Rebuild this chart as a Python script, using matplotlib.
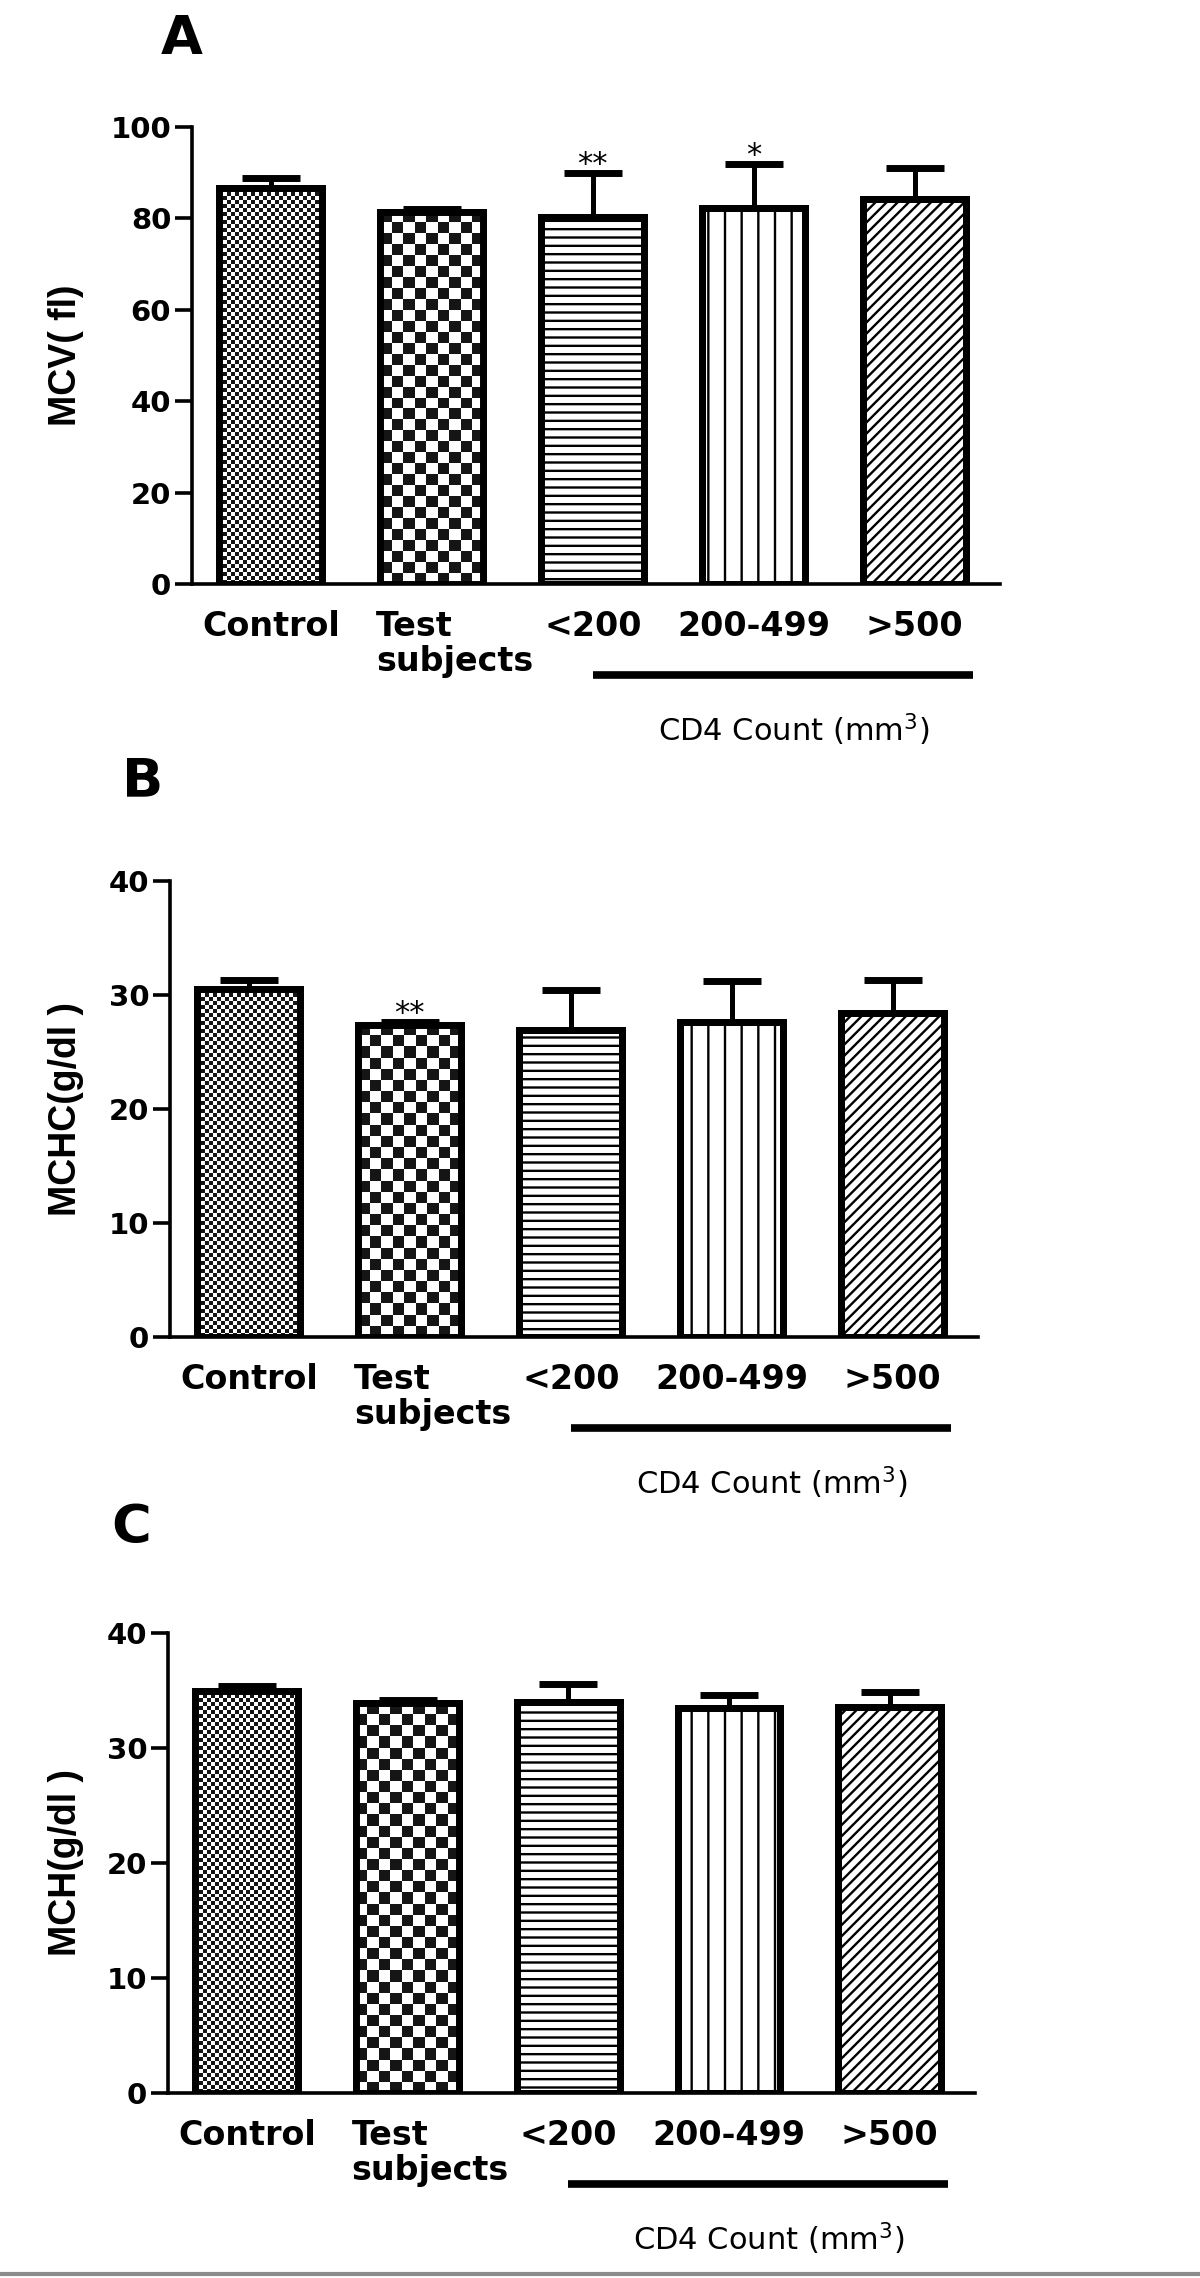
import numpy as np
import matplotlib
matplotlib.use("Agg")
import matplotlib.pyplot as plt
from matplotlib.colors import ListedColormap
from matplotlib.lines import Line2D
from matplotlib.transforms import blended_transform_factory, ScaledTranslation

# ------------------------------------------------------------------
# Data
# ------------------------------------------------------------------
groups = ["Control", "Test\nsubjects", "<200", "200-499", ">500"]

mcv_mean = [86.6, 81.5, 80.4, 82.3, 84.2]
mcv_sd = [2.2, 0.6, 9.6, 9.6, 6.8]
mcv_stars = ["", "", "**", "*", ""]

mchc_mean = [30.5, 27.4, 26.9, 27.6, 28.4]
mchc_sd = [0.8, 0.25, 3.5, 3.6, 2.9]
mchc_stars = ["", "**", "", "", ""]

mch_mean = [35.0, 33.9, 34.0, 33.5, 33.6]
mch_sd = [0.4, 0.3, 1.6, 1.1, 1.3]
mch_stars = ["", "", "", "", ""]

cd4_first, cd4_last = 2, 4   # groups spanned by the CD4 bracket

# fill per group: ("checker", cell px) or a matplotlib hatch string
fills = [("checker", 4), ("checker", 11), "--", "|", "///"]

# ------------------------------------------------------------------
# Figure set-up (pixel based layout, 1200 x 2278 at 100 dpi)
# ------------------------------------------------------------------
W, H, DPI = 1200, 2278, 100
plt.rcParams["font.family"] = ["DejaVu Sans"]
plt.rcParams["font.weight"] = "bold"
plt.rcParams["hatch.linewidth"] = 1.7
plt.rcParams["mathtext.default"] = "regular"

fig = plt.figure(figsize=(W / DPI, H / DPI), dpi=DPI)
fig.patch.set_facecolor("white")

BAR_W = 0.64
XLIM = (-0.49, 4.53)
LABEL_FONT = ["Liberation Sans", "DejaVu Sans"]

panels = [
    # letter, letter centre px, ylabel, means, sds, stars, ymax, ystep, box (l, t, r, b) px
    ("A", (182, 39), "MCV( fl)", mcv_mean, mcv_sd, mcv_stars, 100, 20, (192, 127, 1000, 584)),
    ("B", (143, 781), "MCHC(g/dl )", mchc_mean, mchc_sd, mchc_stars, 40, 10, (170, 881, 978, 1337)),
    ("C", (131, 1528), "MCH(g/dl )", mch_mean, mch_sd, mch_stars, 40, 10, (168, 1633, 975, 2093)),
]


def fill_checker(ax, bar, cell):
    """Paint a checkerboard inside a bar, clipped to the bar outline."""
    x0, y0 = bar.get_x(), bar.get_y()
    x1, y1 = x0 + bar.get_width(), y0 + bar.get_height()
    p0 = ax.transData.transform((x0, y0))
    p1 = ax.transData.transform((x1, y1))
    nx = max(1, int(round((p1[0] - p0[0]) / cell)))
    ny = max(1, int(round((p1[1] - p0[1]) / cell)))
    board = np.add.outer(np.arange(ny), np.arange(nx)) % 2
    im = ax.imshow(board, extent=[x0, x1, y0, y1], origin="lower",
                   cmap=ListedColormap(["white", "#151515"]),
                   interpolation="nearest", aspect="auto", zorder=3)
    im.set_clip_path(bar)


for letter, (lx, ly), ylabel, means, sds, stars, ymax, ystep, (l, t, r, b) in panels:
    ax = fig.add_axes([l / W, 1 - b / H, (r - l) / W, (b - t) / H])
    ax.set_xlim(*XLIM)
    ax.set_ylim(0, ymax)
    ax.set_autoscale_on(False)

    x = np.arange(len(groups))
    bars = ax.bar(x, means, width=BAR_W, color="white", edgecolor="black",
                  linewidth=5, zorder=2)
    for bar, fill in zip(bars, fills):
        if isinstance(fill, tuple):
            fill_checker(ax, bar, fill[1])
        else:
            bar.set_hatch(fill)
    # outline on top of the textures
    ax.bar(x, means, width=BAR_W, fill=False, edgecolor="black", linewidth=5, zorder=4)

    ax.errorbar(x, means, yerr=[np.zeros(len(sds)), sds], fmt="none", ecolor="black",
                elinewidth=3.6, capsize=21, capthick=5, zorder=1)

    for xi, m, s, st in zip(x, means, sds, stars):
        if st:
            ax.annotate(st, (xi, m + s), xytext=(0, 0), textcoords="offset points",
                        ha="center", va="baseline", fontsize=22, fontweight="normal")

    # axes styling (GraphPad look)
    for side in ("top", "right"):
        ax.spines[side].set_visible(False)
    for side in ("left", "bottom"):
        ax.spines[side].set_linewidth(2.6)
    ax.set_yticks(np.arange(0, ymax + 1, ystep))
    ax.tick_params(axis="y", length=12, width=2.6, pad=3, labelsize=21)
    ax.set_xticks(x)
    ax.set_xticklabels(groups, fontsize=24, fontweight="bold", linespacing=1.05)
    ax.tick_params(axis="x", which="major", length=0, pad=19)
    ax.set_xticks([cd4_first], minor=True)
    ax.tick_params(axis="x", which="minor", length=10, width=2.2)
    for lab in ax.get_yticklabels():
        lab.set_fontweight("bold")

    # "Test subjects" sits left-aligned from the bar's left edge
    test_lab = ax.get_xticklabels()[1]
    test_lab.set_ha("left")
    test_lab.set_multialignment("left")
    test_lab.set_transform(test_lab.get_transform()
                           + ScaledTranslation(-56 / DPI, 0, fig.dpi_scale_trans))

    # CD4 bracket and caption under the axis
    axh = b - t
    trans = blended_transform_factory(ax.transData, ax.transAxes)
    ax.plot([cd4_first, cd4_last + BAR_W / 2 + 0.04], [-91 / axh] * 2, transform=trans,
            clip_on=False, color="black", lw=5.5, solid_capstyle="butt")
    ax.text((cd4_first + cd4_last) / 2 + 0.25, -146 / axh, "CD4 Count (mm$^3$)",
            transform=trans, ha="center", va="center", fontsize=22, fontweight="normal")

    # y label and panel letter
    fig.text(66 / W, 1 - (t + b) / 2 / H, ylabel, rotation=90, ha="center", va="center",
             fontsize=27, fontweight="bold", family=LABEL_FONT)
    fig.text(lx / W, 1 - ly / H, letter, ha="center", va="center",
             fontsize=39, fontweight="bold")

# thin grey rule at the bottom edge of the figure
fig.add_artist(Line2D([0, 1], [1 - 2274 / H] * 2, transform=fig.transFigure,
                      color="#8c8c8c", lw=3))

fig.savefig("out.png", dpi=DPI, facecolor="white")
plt.close(fig)
